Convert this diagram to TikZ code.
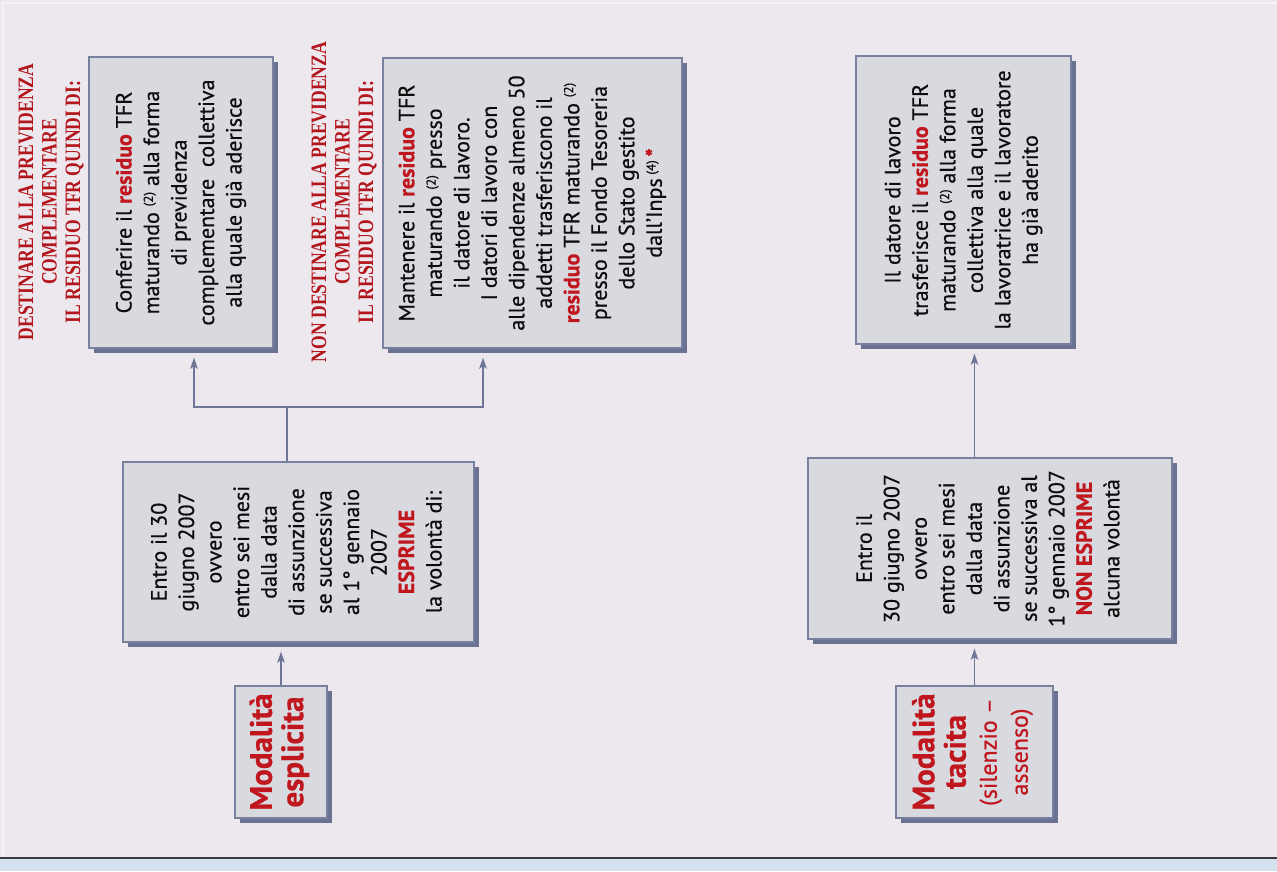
\documentclass[tikz,border=0pt]{standalone}
\usepackage{fontspec}
\setmainfont{PT Sans}[FakeBold=0.6]
\newfontfamily\labfont[FakeStretch=0.8]{Liberation Serif}
\usetikzlibrary{shadows,arrows.meta}
\definecolor{bgc}{HTML}{ECE8EE}
\definecolor{boxf}{HTML}{D9D9E0}
\definecolor{bord}{HTML}{7880A0}
\definecolor{shad}{HTML}{6A7193}
\definecolor{linec}{HTML}{6E7597}
\definecolor{tred}{HTML}{C0161E}
\definecolor{labred}{HTML}{B3151C}
\definecolor{stripc}{HTML}{D4E1EE}
\definecolor{darkl}{HTML}{3C3C44}
\definecolor{framec}{HTML}{F6F3F7}
\newcommand\vtext[1]{\rotatebox{90}{\begin{tabular}{@{}c@{}}#1\end{tabular}}}
\newcommand\rd[1]{\textcolor{tred}{\textbf{#1}}}
\newcommand\sx[1]{\raisebox{0.55ex}{\fontsize{13}{13}\selectfont(#1)}}
\tikzset{
 box/.style={draw=bord, line width=1.3pt, fill=boxf, inner sep=0pt,
   general shadow={shadow xshift=5pt, shadow yshift=-5pt, fill=shad},
   font=\fontsize{22}{27.5}\selectfont, text=black!95},
 mbox/.style={box, font=\fontsize{31}{31}\selectfont\bfseries, text=tred},
 lab/.style={inner sep=0pt, text=labred, font=\labfont\bfseries\fontsize{22}{23.5}\selectfont},
 ln/.style={draw=linec, line width=1.7pt},
 arr/.style={ln, -{Stealth[length=11pt,width=7.5pt,inset=2.5pt]}, shorten >=9pt},
}
\begin{document}
\begin{tikzpicture}[x=1pt,y=-1pt]
\useasboundingbox (0,0) rectangle (1277,871);
\fill[bgc] (0,0) rectangle (1277,857);
\draw[framec, line width=1.2pt] (3,857) -- (3,3) -- (1277,3);
\draw[darkl, line width=2.5pt] (0,858) -- (1277,858);
\fill[stripc] (0,859.3) rectangle (1277,871);

% labels
\node[lab] (LA) at (52,202) {\vtext{DESTINARE ALLA PREVIDENZA\\ COMPLEMENTARE\\ IL RESIDUO TFR QUINDI DI:}};
\node[lab] (LB) at (345,202) {\vtext{NON DESTINARE ALLA PREVIDENZA\\ COMPLEMENTARE\\ IL RESIDUO TFR QUINDI DI:}};

% boxes
\node[box, minimum width=184pt, minimum height=291pt] (A) at (181,202.5)
 {\vtext{Conferire il \rd{residuo} TFR\\ maturando \sx{2} alla forma\\ di previdenza\\ complementare\ \ collettiva\\ alla quale già aderisce}};
\node[box, minimum width=299pt, minimum height=290pt] (B) at (532.5,203)
 {\vtext{Mantenere il \rd{residuo} TFR\\ maturando \sx{2} presso\\ il datore di lavoro.\\ I datori di lavoro con\\ alle dipendenze almeno 50\\ addetti trasferiscono il\\ \rd{residuo} TFR maturando \sx{2}\\ presso il Fondo Tesoreria\\ dello Stato gestito\\ dall'Inps\,\sx{4}\,\textcolor{tred}{\textbf{*}}}};
\node[box, minimum width=351pt, minimum height=180pt] (C) at (298.5,552)
 {\vtext{Entro il 30\\ giugno 2007\\ ovvero\\ entro sei mesi\\ dalla data\\ di assunzione\\ se successiva\\ al 1° gennaio\\ 2007\\ \rd{ESPRIME}\\ la volontà di:}};
\node[mbox, minimum width=92pt, minimum height=132pt] (D) at (281,752)
 {\vtext{Modalità\\ esplicita}};
\node[box, minimum width=215pt, minimum height=288pt] (E) at (963.5,200)
 {\vtext{Il datore di lavoro\\ trasferisce il \rd{residuo} TFR\\ maturando \sx{2} alla forma\\ collettiva alla quale\\ la lavoratrice e il lavoratore\\ ha già aderito}};
\node[box, minimum width=364pt, minimum height=181pt] (F) at (990,548.5)
 {\vtext{Entro il\\ 30 giugno 2007\\ ovvero\\ entro sei mesi\\ dalla data\\ di assunzione\\ se successiva al\\ 1° gennaio 2007\\ \rd{NON ESPRIME}\\ alcuna volontà}};
\node[mbox, minimum width=157pt, minimum height=132pt] (G) at (974.5,752)
 {\vtext{Modalità\\ tacita\\ \fontsize{24}{27}\selectfont\mdseries (silenzio –\\ \fontsize{24}{27}\selectfont\mdseries assenso)}};

% connectors
\coordinate (j) at (287,407);
\coordinate (ja) at (194,407);
\coordinate (jb) at (483,407);
\draw[ln] (C.north -| j) -- (j);
\draw[arr] (j) -- (ja) -- (ja |- A.south);
\draw[arr] (j) -- (jb) -- (jb |- B.south);
\draw[arr] (D.north) -- (D.north |- C.south);
\draw[arr] (G.north) -- (G.north |- F.south);
\draw[arr] (F.north -| G.north) -- (G.north |- E.south);
\end{tikzpicture}
\end{document}
